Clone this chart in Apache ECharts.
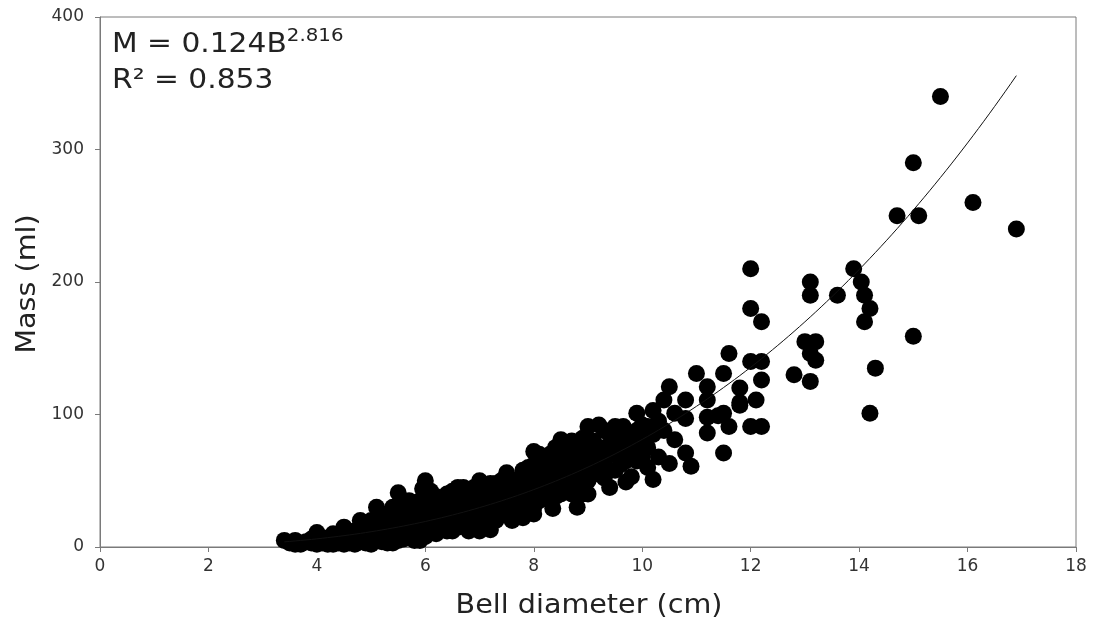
<!DOCTYPE html>
<html>
<head>
<meta charset="utf-8">
<style>
  html, body { margin: 0; padding: 0; background: #fff; }
  #chart { width: 1093px; height: 626px; }
</style>
<script src="https://cdn.jsdelivr.net/npm/echarts@6/dist/echarts.min.js"></script>
</head>
<body>
<div id="chart"></div>
<script>
// Bell diameter (cm) vs. mass (ml), one [diameter, mass] pair per medusa
const smallBells = [
  [3.4,5],[3.5,3],[3.6,5],[3.6,2],[3.7,2],[3.8,4],[3.9,3],[3.9,6],[4.0,11],[4.0,5],[4.0,2],
  [4.1,3],[4.1,7],[4.2,6],[4.2,2],[4.3,4],[4.3,10],[4.3,2],[4.4,8],[4.4,3],[4.5,15],[4.5,5],[4.5,2],
  [4.6,10],[4.6,3],[4.6,6],[4.7,7],[4.7,2],[4.7,12],[4.8,20],[4.8,12],[4.8,4],[4.9,8],[4.9,3],
  [4.9,14],[4.9,5],[5.0,15],[5.0,5],[5.0,2],[5.0,10],[5.0,20],
  [5.1,30],[5.1,20],[5.1,10],[5.2,4],[5.2,15],[5.2,8],[5.2,22],[5.3,8],[5.3,25],[5.3,15],[5.3,3],
  [5.4,12],[5.4,3],[5.4,20],[5.4,30],
  [5.5,41],[5.5,20],[5.5,10],[5.5,5],[5.6,30],[5.6,15],[5.6,6],[5.6,22],[5.7,25],[5.7,8],
  [5.7,15],[5.7,35],[5.8,20],[5.8,12],[5.8,5],[5.8,28],[5.9,5],[5.9,35],[5.9,18],[5.9,25],
  [5.95,44],[6.0,50],[6.0,40],[6.0,25],[6.0,15],[6.0,8],[6.0,30]
];
const mediumBells = [
  [6.1,30],[6.1,12],[6.1,20],[6.1,42],[6.2,20],[6.2,38],[6.2,10],[6.2,28],[6.3,15],[6.3,28],
  [6.3,35],[6.3,22],[6.4,40],[6.4,12],[6.4,18],[6.4,30],[6.5,22],[6.5,33],[6.5,12],[6.5,42],
  [6.6,45],[6.6,15],[6.6,25],[6.6,35],[6.7,28],[6.7,38],[6.7,18],[6.7,45],[6.8,12],[6.8,20],
  [6.8,30],[6.8,40],[6.9,35],[6.9,25],[6.9,15],[6.9,45],[7.0,50],[7.0,40],[7.0,18],[7.0,30],
  [7.0,25],[7.0,12],
  [7.1,45],[7.1,20],[7.1,30],[7.2,13],[7.2,25],[7.2,38],[7.2,48],[7.3,48],[7.3,30],[7.3,20],
  [7.3,40],[7.4,24],[7.4,40],[7.4,32],[7.4,50],[7.5,56],[7.5,35],[7.5,45],[7.5,25],[7.6,28],
  [7.6,50],[7.6,38],[7.6,20],[7.7,40],[7.7,32],[7.7,48],[7.7,25],[7.8,22],[7.8,48],[7.8,35],
  [7.8,58],[7.9,35],[7.9,60],[7.9,28],[7.9,45],[8.0,72],[8.0,55],[8.0,42],[8.0,30],[8.0,62],
  [8.0,25],
  [8.1,48],[8.1,62],[8.1,35],[8.1,70],[8.2,38],[8.2,55],[8.2,45],[8.2,65],[8.3,70],[8.3,45],
  [8.3,55],[8.3,35],[8.35,29],[8.4,60],[8.4,38],[8.4,50],[8.4,75],[8.5,81],[8.5,65],[8.5,50],
  [8.5,40],[8.5,58],[8.6,42],[8.6,72],[8.6,52],[8.6,62],[8.7,55],[8.7,80],[8.7,40],[8.7,68],
  [8.8,30],[8.8,62],[8.8,45],[8.8,75],[8.8,55],[8.9,70],[8.9,52],[8.9,40],[8.9,62],[8.9,82],
  [9.0,91],[9.0,78],[9.0,60],[9.0,40],[9.0,50],[9.0,70],
  [9.1,68],[9.1,58],[9.1,80],[9.2,92],[9.2,55],[9.2,65],[9.2,75],[9.3,75],[9.3,62],[9.3,52],
  [9.3,88],[9.4,45],[9.4,85],[9.4,58],[9.4,70],[9.5,91],[9.5,70],[9.5,58],[9.5,80],[9.6,80],
  [9.6,62],[9.6,90],[9.7,49],[9.7,65],[9.7,75],[9.8,75],[9.8,53],[9.8,85],[9.9,101],[9.9,88],
  [9.9,65],[9.9,78],[10.0,68],[10.0,80],[10.0,92],[10.1,91],[10.1,75],[10.1,60],[10.2,51],
  [10.2,103],[10.2,85],[10.3,95],[10.3,68]
];
const largeBells = [
  [9.65,91],[10.4,88],[10.4,111],
  [10.5,121],[10.5,63],[10.6,101],[10.6,81],[10.8,111],[10.8,97],[10.8,71],
  [10.9,61],[11.0,131],[11.2,121],[11.2,111],[11.2,98],[11.2,86],[11.4,99],
  [11.5,131],[11.5,101],[11.5,71],[11.6,146],[11.6,91],[11.8,120],[11.8,109],
  [11.8,107],[12.0,210],[12.0,180],[12.0,140],[12.0,91],[12.1,111],
  [12.2,170],[12.2,140],[12.2,126],[12.2,91],
  [12.8,130],[13.0,155],[13.1,200],[13.1,190],[13.1,146],[13.1,125],
  [13.2,155],[13.2,141],[13.6,190],[13.9,210],[14.04,200],[14.1,190],
  [14.2,180],[14.1,170],[14.3,135],[14.2,101],
  [14.7,250],[15.0,290],[15.0,159],[15.1,250],[15.5,340],[16.1,260],[16.9,240]
];

// Power-law fit M = a * B^b and its reported goodness of fit
const fitA = 0.124;
const fitB = 2.816;
const fitR2 = 0.853;
const fitFrom = 3.4;
const fitTo = 16.9;

const xTicks = [0, 2, 4, 6, 8, 10, 12, 14, 16, 18];
const yTicks = [0, 100, 200, 300, 400];
const xTitle = 'Bell diameter (cm)';
const yTitle = 'Mass (ml)';

const fitLine = [];
for (let i = 0; i <= 135; i++) {
  const b = fitFrom + (fitTo - fitFrom) * i / 135;
  fitLine.push([b, fitA * Math.pow(b, fitB)]);
}

const font = 'DejaVu Sans, Verdana, sans-serif';
const gridBox = { left: 100, right: 17, top: 17, bottom: 79 };
const W = 1093, H = 626;
const plotCx = gridBox.left + (W - gridBox.left - gridBox.right) / 2;
const plotCy = gridBox.top + (H - gridBox.top - gridBox.bottom) / 2;

const chart = echarts.init(document.getElementById('chart'));
chart.setOption({
  animation: false,
  grid: Object.assign({ show: true, borderColor: '#7a7a7a', borderWidth: 1 }, gridBox),
  xAxis: {
    type: 'value', min: xTicks[0], max: xTicks[xTicks.length - 1], interval: 2,
    axisLine: { lineStyle: { color: '#7a7a7a', width: 1 } },
    axisTick: { show: true, inside: false, length: 5, lineStyle: { color: '#7a7a7a' } },
    axisLabel: { fontFamily: font, fontSize: 17, color: '#333', margin: 11 },
    splitLine: { show: false }
  },
  yAxis: {
    type: 'value', min: yTicks[0], max: yTicks[yTicks.length - 1], interval: 100,
    axisLine: { show: true, lineStyle: { color: '#7a7a7a', width: 1 } },
    axisTick: { show: true, inside: false, length: 5, lineStyle: { color: '#7a7a7a' } },
    axisLabel: { fontFamily: font, fontSize: 17, color: '#333', margin: 16 },
    splitLine: { show: false }
  },
  graphic: [
    {
      type: 'text', x: 112, y: 27, scaleX: 1.1, z: 100,
      style: {
        text: '{m|M = ' + fitA.toFixed(3) + 'B}{s|' + fitB.toFixed(3) + '}\n{m|R² = ' + fitR2.toFixed(3) + '}',
        rich: {
          m: { fontFamily: font, fontSize: 27, fill: '#222', lineHeight: 36 },
          s: { fontFamily: font, fontSize: 18, fill: '#222', verticalAlign: 'top', lineHeight: 36, padding: [0, 0, 14, 0] }
        }
      }
    },
    {
      type: 'text', x: plotCx + 1, y: 606, scaleX: 1.1, z: 100,
      style: { text: xTitle, fontFamily: font, fontSize: 26, fill: '#222', align: 'center', verticalAlign: 'middle' }
    },
    {
      type: 'text', x: 28, y: plotCy + 2, rotation: Math.PI / 2, scaleX: 1.1, z: 100,
      style: { text: yTitle, fontFamily: font, fontSize: 26, fill: '#222', align: 'center', verticalAlign: 'middle' }
    }
  ],
  series: [
    {
      type: 'scatter', symbol: 'circle', symbolSize: 17,
      itemStyle: { color: '#000', opacity: 1 },
      data: smallBells.concat(mediumBells, largeBells), z: 2
    },
    {
      type: 'line', data: fitLine, showSymbol: false, smooth: false,
      lineStyle: { color: '#111', width: 1 }, z: 3
    }
  ]
});
</script>
</body>
</html>
